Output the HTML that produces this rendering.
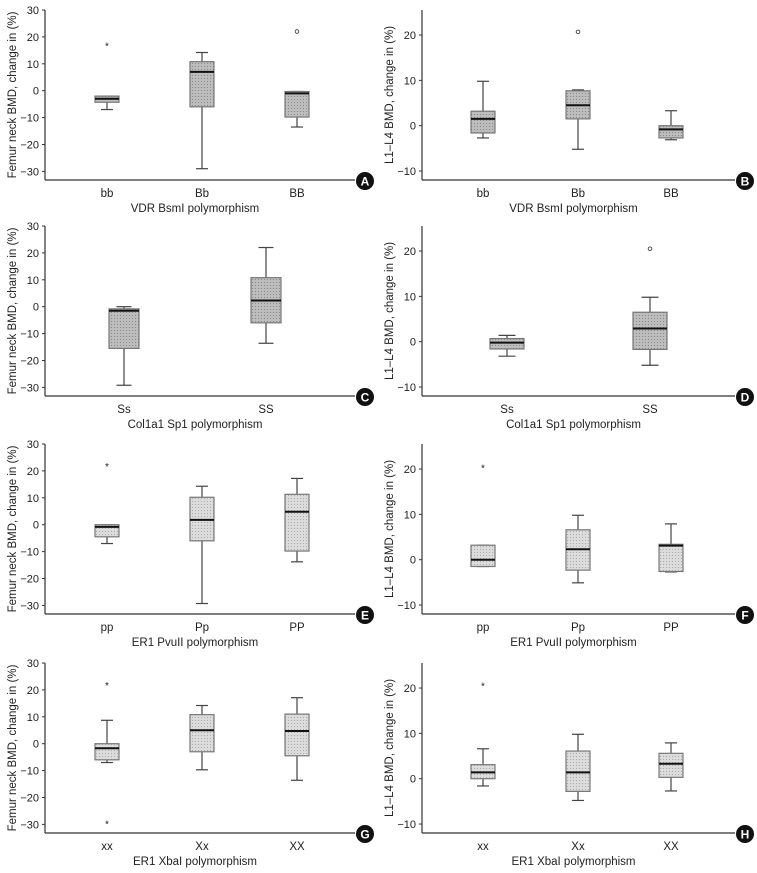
<!DOCTYPE html>
<html><head><meta charset="utf-8">
<style>
html,body{margin:0;padding:0;background:#fff;}
svg{display:block;}
text{font-family:"Liberation Sans Narrow","Liberation Sans",sans-serif;fill:#222;}
</style></head>
<body>
<svg id="chart" width="757" height="873" viewBox="0 0 757 873" xmlns="http://www.w3.org/2000/svg">
<defs>
<pattern id="dots" width="3" height="3" patternUnits="userSpaceOnUse"><rect width="3" height="3" fill="#bdbdbd"/><rect width="1" height="1" fill="#888"/></pattern>
<pattern id="dotsLight" width="3" height="3" patternUnits="userSpaceOnUse"><rect width="3" height="3" fill="#dcdcdc"/><rect width="1" height="1" fill="#aaa"/></pattern>
</defs>
</svg>
<script>
// categories per panel
const catsA = ["bb","Bb","BB"];
const catsC = ["Ss","SS"];
const catsE = ["pp","Pp","PP"];
const catsG = ["xx","Xx","XX"];
// box stats: [low whisker, q1, median, q3, high whisker]
const boxA = [[-7,-4.3,-3,-2,-2],[-29,-6,7,10.8,14.2],[-13.5,-9.8,-1,-0.3,-0.3]];
const boxB = [[-2.7,-1.6,1.5,3.2,9.8],[-5.2,1.5,4.5,7.7,7.9],[-3.1,-2.7,-0.8,0,3.3]];
const boxC = [[-29.2,-15.5,-1.5,-0.8,0],[-13.6,-6,2.3,10.8,22]];
const boxD = [[-3.2,-1.6,-0.2,0.7,1.4],[-5.2,-1.7,2.9,6.5,9.8]];
const boxE = [[-7,-4.5,-0.8,0,0],[-29.3,-6,1.8,10.2,14.3],[-13.8,-9.8,4.8,11.3,17.2]];
const boxF = [[-1.5,-1.5,0,3.2,3.2],[-5.1,-2.3,2.3,6.6,9.8],[-2.7,-2.6,3.1,3.4,7.9]];
const boxG = [[-7,-6,-1.7,0,8.7],[-9.7,-3,5,10.8,14.2],[-13.6,-4.5,4.7,11,17.1]];
const boxH = [[-1.6,0,1.4,3.1,6.6],[-4.8,-2.8,1.4,6.1,9.8],[-2.7,0.3,3.3,5.6,7.9]];
// outliers: [category index, value, symbol]
const outA = [[0,17,"*"],[2,22,"o"]];
const outB = [[1,20.7,"o"]];
const outC = [];
const outD = [[1,20.5,"o"]];
const outE = [[0,22,"*"]];
const outF = [[0,20.5,"*"]];
const outG = [[0,22,"*"],[0,-29.5,"*"]];
const outH = [[0,20.7,"*"]];
// tick labels
const ticksLeft = [30,20,10,0,-10,-20,-30];
const ticksRight = [20,10,0,-10];
const xTitles = ["VDR BsmI polymorphism","Col1a1 Sp1 polymorphism","ER1 PvuII polymorphism","ER1 XbaI polymorphism"];

const svg = document.getElementById('chart');
const NS = "http://www.w3.org/2000/svg";
function mk(tag, attrs, parent){
  const e = document.createElementNS(NS, tag);
  for (const k in attrs) e.setAttribute(k, attrs[k]);
  (parent||svg).appendChild(e);
  return e;
}

function panel(opt){
  const g = mk('g', {});
  
  
  const y0 = opt.y0, ax = opt.ax, axEnd = opt.axEnd;
  const top = y0 + 10, bottom = y0 + 180;
  const yS = v => y0 + opt.zeroY - v * opt.pxPer;
  const yl = mk('line', {x1:ax, y1:top, x2:ax, y2:bottom, stroke:'#333', 'stroke-width':1.2}, g);
  
  
  const xl = mk('line', {x1:ax, y1:bottom, x2:axEnd, y2:bottom, stroke:'#333', 'stroke-width':1.2}, g);
  
  
  opt.ticks.forEach(t => {
    const y = yS(t);
    mk('line', {x1:ax-3, y1:y, x2:ax, y2:y, stroke:'#333', 'stroke-width':1}, g);
    const tx = mk('text', {x:ax-6, y:y+4, 'text-anchor':'end', 'font-size':11}, g);
    tx.textContent = t < 0 ? '\u2212' + Math.abs(t) : String(t);
    
    
  });
  const yt = mk('text', {x:0, y:0, 'text-anchor':'middle', 'font-size':11.5, transform:`translate(${ax-29},${y0+95}) rotate(-90)`}, g);
  yt.textContent = opt.yTitle;
  
  
  const xt = mk('text', {x:(ax+axEnd)/2 - 5, y:y0+212, 'text-anchor':'middle', 'font-size':11.5}, g);
  xt.textContent = opt.xTitle;
  
  
  const cx = axEnd + 10;
  const c = mk('circle', {cx:cx, cy:bottom+1, r:9, fill:'#111'}, g);
  
  
  const lt = mk('text', {x:cx, y:bottom+5.5, 'text-anchor':'middle', 'font-size':12, 'font-weight':'bold', style:'fill:#fff;font-family:Liberation Sans,sans-serif'}, g);
  lt.textContent = opt.letter;
  
  
  opt.cats.forEach((cat, i) => {
    const x = opt.xs[i];
    const b = opt.boxes[i];
    const w = opt.bw;
    const bg = mk('g', {}, g);
    
    
    mk('line', {x1:x, y1:yS(b[0]), x2:x, y2:yS(b[4]), stroke:'#444', 'stroke-width':1.2}, bg);
    mk('line', {x1:x-w/4, y1:yS(b[0]), x2:x+w/4, y2:yS(b[0]), stroke:'#444', 'stroke-width':1.2}, bg);
    mk('line', {x1:x-w/4, y1:yS(b[4]), x2:x+w/4, y2:yS(b[4]), stroke:'#444', 'stroke-width':1.2}, bg);
    mk('rect', {x:x-w/2, y:yS(b[3]), width:w, height:Math.max(1, yS(b[1])-yS(b[3])), fill:opt.fill, stroke:'#777', 'stroke-width':1.2}, bg);
    mk('line', {x1:x-w/2, y1:yS(b[2]), x2:x+w/2, y2:yS(b[2]), stroke:'#111', 'stroke-width':2}, bg);
    const cl = mk('text', {x:x, y:bottom+17, 'text-anchor':'middle', 'font-size':11.5}, g);
    cl.textContent = cat;
    
    
  });
  opt.outs.forEach(o => {
    const x = opt.xs[o[0]], y = yS(o[1]);
    if (o[2] === 'o') {
      const oc = mk('circle', {cx:x, cy:y, r:1.8, fill:'none', stroke:'#444', 'stroke-width':0.9}, g);
      
      
    } else {
      const ot = mk('text', {x:x, y:y+4.5, 'text-anchor':'middle', 'font-size':10}, g);
      ot.textContent = '*';
      
      
    }
  });
}

const rows = [0, 216, 434, 653];
const leftTitle = "Femur neck BMD, change in (%)";
const rightTitle = "L1\u2013L4 BMD, change in (%)";
const L3 = [107, 202, 297], R3 = [483, 578, 671];
const L2 = [124, 266], R2 = [507, 650];
const leftBase = {ax:45, axEnd:355, zeroY:90.7, pxPer:2.69, ticks:ticksLeft, yTitle:leftTitle};
const rightBase = {ax:422, axEnd:735, zeroY:125.7, pxPer:4.533, ticks:ticksRight, yTitle:rightTitle};
const specs = [
  [leftBase, 'A', catsA, boxA, outA, L3, 0, 'url(#dots)', 24],
  [rightBase,'B', catsA, boxB, outB, R3, 0, 'url(#dots)', 24],
  [leftBase, 'C', catsC, boxC, outC, L2, 1, 'url(#dots)', 30],
  [rightBase,'D', catsC, boxD, outD, R2, 1, 'url(#dots)', 34],
  [leftBase, 'E', catsE, boxE, outE, L3, 2, 'url(#dotsLight)', 24],
  [rightBase,'F', catsE, boxF, outF, R3, 2, 'url(#dotsLight)', 24],
  [leftBase, 'G', catsG, boxG, outG, L3, 3, 'url(#dotsLight)', 24],
  [rightBase,'H', catsG, boxH, outH, R3, 3, 'url(#dotsLight)', 24]
];
specs.forEach(s => {
  panel(Object.assign({}, s[0], {letter:s[1], cats:s[2], boxes:s[3], outs:s[4], xs:s[5], y0:rows[s[6]], xTitle:xTitles[s[6]], fill:s[7], bw:s[8]}));
});
</script>
</body></html>
